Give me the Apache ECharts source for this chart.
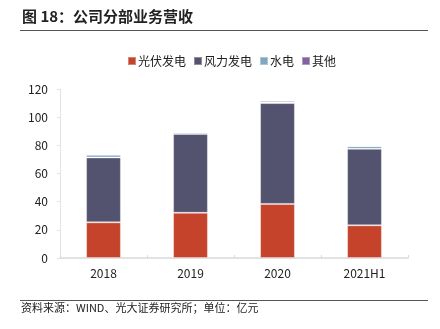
<!DOCTYPE html>
<html>
<head>
<meta charset="utf-8">
<script src="https://cdn.jsdelivr.net/npm/echarts@6/dist/echarts.min.js"></script>
<style>
html,body{margin:0;padding:0;background:#fff;}
#chart{width:440px;height:329px;}
</style>
</head>
<body>
<div id="chart"></div>
<script>
// 公司分部业务营收（亿元）
const categories = ['2018', '2019', '2020', '2021H1'];
const solar = [25.3, 32.1, 38.4, 23.2];
const wind = [46.1, 56.0, 71.6, 54.3];
const hydro = [1.9, 1.0, 0.4, 1.9];
const other = [0.1, 0.1, 1.0, 0.1];
const yTicks = [0, 20, 40, 60, 80, 100, 120];

const font = '"Noto Sans CJK SC", "Noto Sans", sans-serif';
const chart = echarts.init(document.getElementById('chart'));

function stackSeries(name, data, color) {
  return {
    name: name,
    type: 'bar',
    stack: 'total',
    data: data,
    barWidth: '40%',
    itemStyle: { color: color, borderColor: 'rgba(255,255,255,0.35)', borderWidth: 1 },
    emphasis: { disabled: true }
  };
}

chart.setOption({
  animation: false,
  textStyle: { fontFamily: font },
  graphic: [
    { type: 'text', left: 22, top: 9, style: { text: '图 18：公司分部业务营收', font: 'bold 15px ' + font, fill: '#222' } },
    { type: 'line', shape: { x1: 20, y1: 30.5, x2: 428, y2: 30.5 }, style: { stroke: '#555', lineWidth: 1.2 } },
    { type: 'line', shape: { x1: 20, y1: 300.5, x2: 428, y2: 300.5 }, style: { stroke: '#555', lineWidth: 1.2 } },
    { type: 'text', left: 21, top: 302, style: { text: '资料来源：WIND、光大证券研究所；单位：亿元', font: '11px ' + font, fill: '#222' } }
  ],
  legend: {
    top: 50,
    left: 122,
    itemWidth: 8,
    itemHeight: 8,
    itemGap: 7,
    icon: 'rect',
    textStyle: { fontSize: 12, color: '#222', fontFamily: font, padding: [0, 0, 0, -3] },
    data: ['光伏发电', '风力发电', '水电', '其他']
  },
  grid: { left: 60, right: 32, top: 89, bottom: 71, containLabel: false },
  xAxis: {
    type: 'category',
    data: categories,
    axisLine: { lineStyle: { color: '#d9d9d9', width: 1.5 } },
    axisTick: { show: true, inside: true, length: 3, lineStyle: { color: '#d9d9d9' } },
    axisLabel: { color: '#222', fontSize: 12, margin: 9 }
  },
  yAxis: {
    type: 'value',
    min: yTicks[0],
    max: yTicks[yTicks.length - 1],
    interval: 20,
    axisLine: { show: true, lineStyle: { color: '#e3e3e3' } },
    axisTick: { show: true, length: 3, lineStyle: { color: '#e3e3e3' } },
    splitLine: { show: false },
    axisLabel: { color: '#222', fontSize: 12, margin: 12 }
  },
  series: [
    stackSeries('光伏发电', solar, '#C4432A'),
    stackSeries('风力发电', wind, '#53526F'),
    stackSeries('水电', hydro, '#7FA8C0'),
    stackSeries('其他', other, '#8064A2')
  ]
});
</script>
</body>
</html>
